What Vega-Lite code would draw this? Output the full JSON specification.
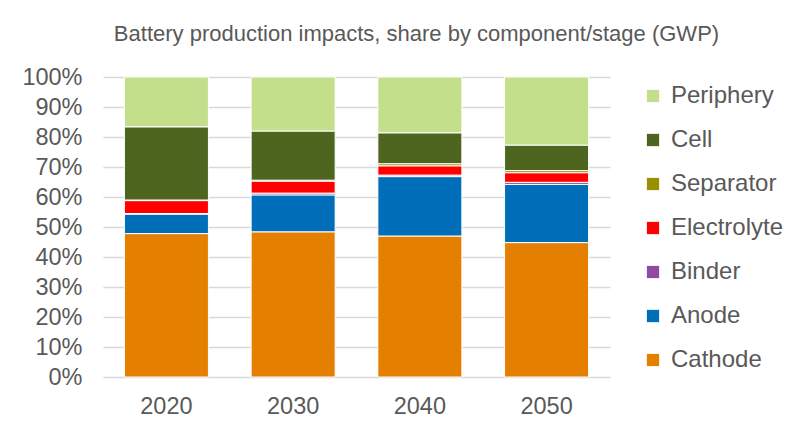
{
  "$schema": "https://vega.github.io/schema/vega-lite/v6.json",
  "width": 507,
  "height": 300,
  "autosize": {"type": "none"},
  "padding": {"left": 103, "top": 77, "right": 202, "bottom": 56},
  "background": "white",
  "title": {
    "text": "Battery production impacts, share by component/stage (GWP)",
    "font": "Liberation Sans",
    "fontSize": 22,
    "fontWeight": "normal",
    "color": "#595959",
    "anchor": "middle",
    "dx": 60,
    "offset": 19
  },
  "data": {
    "values": [
      {"year": "2020", "component": "Cathode", "share": 0.478},
      {"year": "2020", "component": "Anode", "share": 0.065},
      {"year": "2020", "component": "Binder", "share": 0.002},
      {"year": "2020", "component": "Electrolyte", "share": 0.043},
      {"year": "2020", "component": "Separator", "share": 0.002},
      {"year": "2020", "component": "Cell", "share": 0.244},
      {"year": "2020", "component": "Periphery", "share": 0.166},
      {"year": "2030", "component": "Cathode", "share": 0.484},
      {"year": "2030", "component": "Anode", "share": 0.123},
      {"year": "2030", "component": "Binder", "share": 0.006},
      {"year": "2030", "component": "Electrolyte", "share": 0.04},
      {"year": "2030", "component": "Separator", "share": 0.003},
      {"year": "2030", "component": "Cell", "share": 0.164},
      {"year": "2030", "component": "Periphery", "share": 0.18},
      {"year": "2040", "component": "Cathode", "share": 0.47},
      {"year": "2040", "component": "Anode", "share": 0.198},
      {"year": "2040", "component": "Binder", "share": 0.005},
      {"year": "2040", "component": "Electrolyte", "share": 0.031},
      {"year": "2040", "component": "Separator", "share": 0.007},
      {"year": "2040", "component": "Cell", "share": 0.103},
      {"year": "2040", "component": "Periphery", "share": 0.186},
      {"year": "2050", "component": "Cathode", "share": 0.448},
      {"year": "2050", "component": "Anode", "share": 0.194},
      {"year": "2050", "component": "Binder", "share": 0.007},
      {"year": "2050", "component": "Electrolyte", "share": 0.032},
      {"year": "2050", "component": "Separator", "share": 0.007},
      {"year": "2050", "component": "Cell", "share": 0.085},
      {"year": "2050", "component": "Periphery", "share": 0.227}
    ]
  },
  "transform": [
    {"window": [{"op": "row_number", "as": "stack_rank"}], "groupby": ["year"]}
  ],
  "mark": {"type": "bar", "stroke": "white", "strokeWidth": 1},
  "encoding": {
    "x": {
      "field": "year",
      "type": "ordinal",
      "scale": {"paddingInner": 0.337, "paddingOuter": 0.169},
      "axis": {
        "title": null,
        "labelAngle": 0,
        "labelFont": "Liberation Sans",
        "labelFontSize": 23.5,
        "labelColor": "#595959",
        "labelPadding": 17,
        "ticks": false,
        "domain": false
      }
    },
    "y": {
      "field": "share",
      "type": "quantitative",
      "stack": "zero",
      "scale": {"domain": [0, 1], "nice": false},
      "axis": {
        "title": null,
        "values": [0, 0.1, 0.2, 0.3, 0.4, 0.5, 0.6, 0.7, 0.8, 0.9, 1],
        "format": ".0%",
        "labelFont": "Liberation Sans",
        "labelFontSize": 23.5,
        "labelColor": "#595959",
        "labelPadding": 21,
        "ticks": false,
        "domain": false,
        "gridColor": "#D9D9D9",
        "gridWidth": 1.5
      }
    },
    "order": {"field": "stack_rank", "type": "quantitative", "sort": "ascending"},
    "color": {
      "field": "component",
      "type": "nominal",
      "sort": ["Periphery", "Cell", "Separator", "Electrolyte", "Binder", "Anode", "Cathode"],
      "scale": {
        "domain": ["Periphery", "Cell", "Separator", "Electrolyte", "Binder", "Anode", "Cathode"],
        "range": ["#C4DF8C", "#4E6520", "#9A9100", "#FF0000", "#8E4BA0", "#006EB8", "#E47F00"]
      },
      "legend": {
        "title": null,
        "orient": "none",
        "legendX": 538,
        "legendY": 7,
        "symbolType": "square",
        "symbolSize": 150,
        "symbolStrokeWidth": 0,
        "labelFont": "Liberation Sans",
        "labelFontSize": 24,
        "labelColor": "#595959",
        "labelOffset": 6,
        "rowPadding": 20
      }
    }
  },
  "config": {"view": {"stroke": null}}
}
